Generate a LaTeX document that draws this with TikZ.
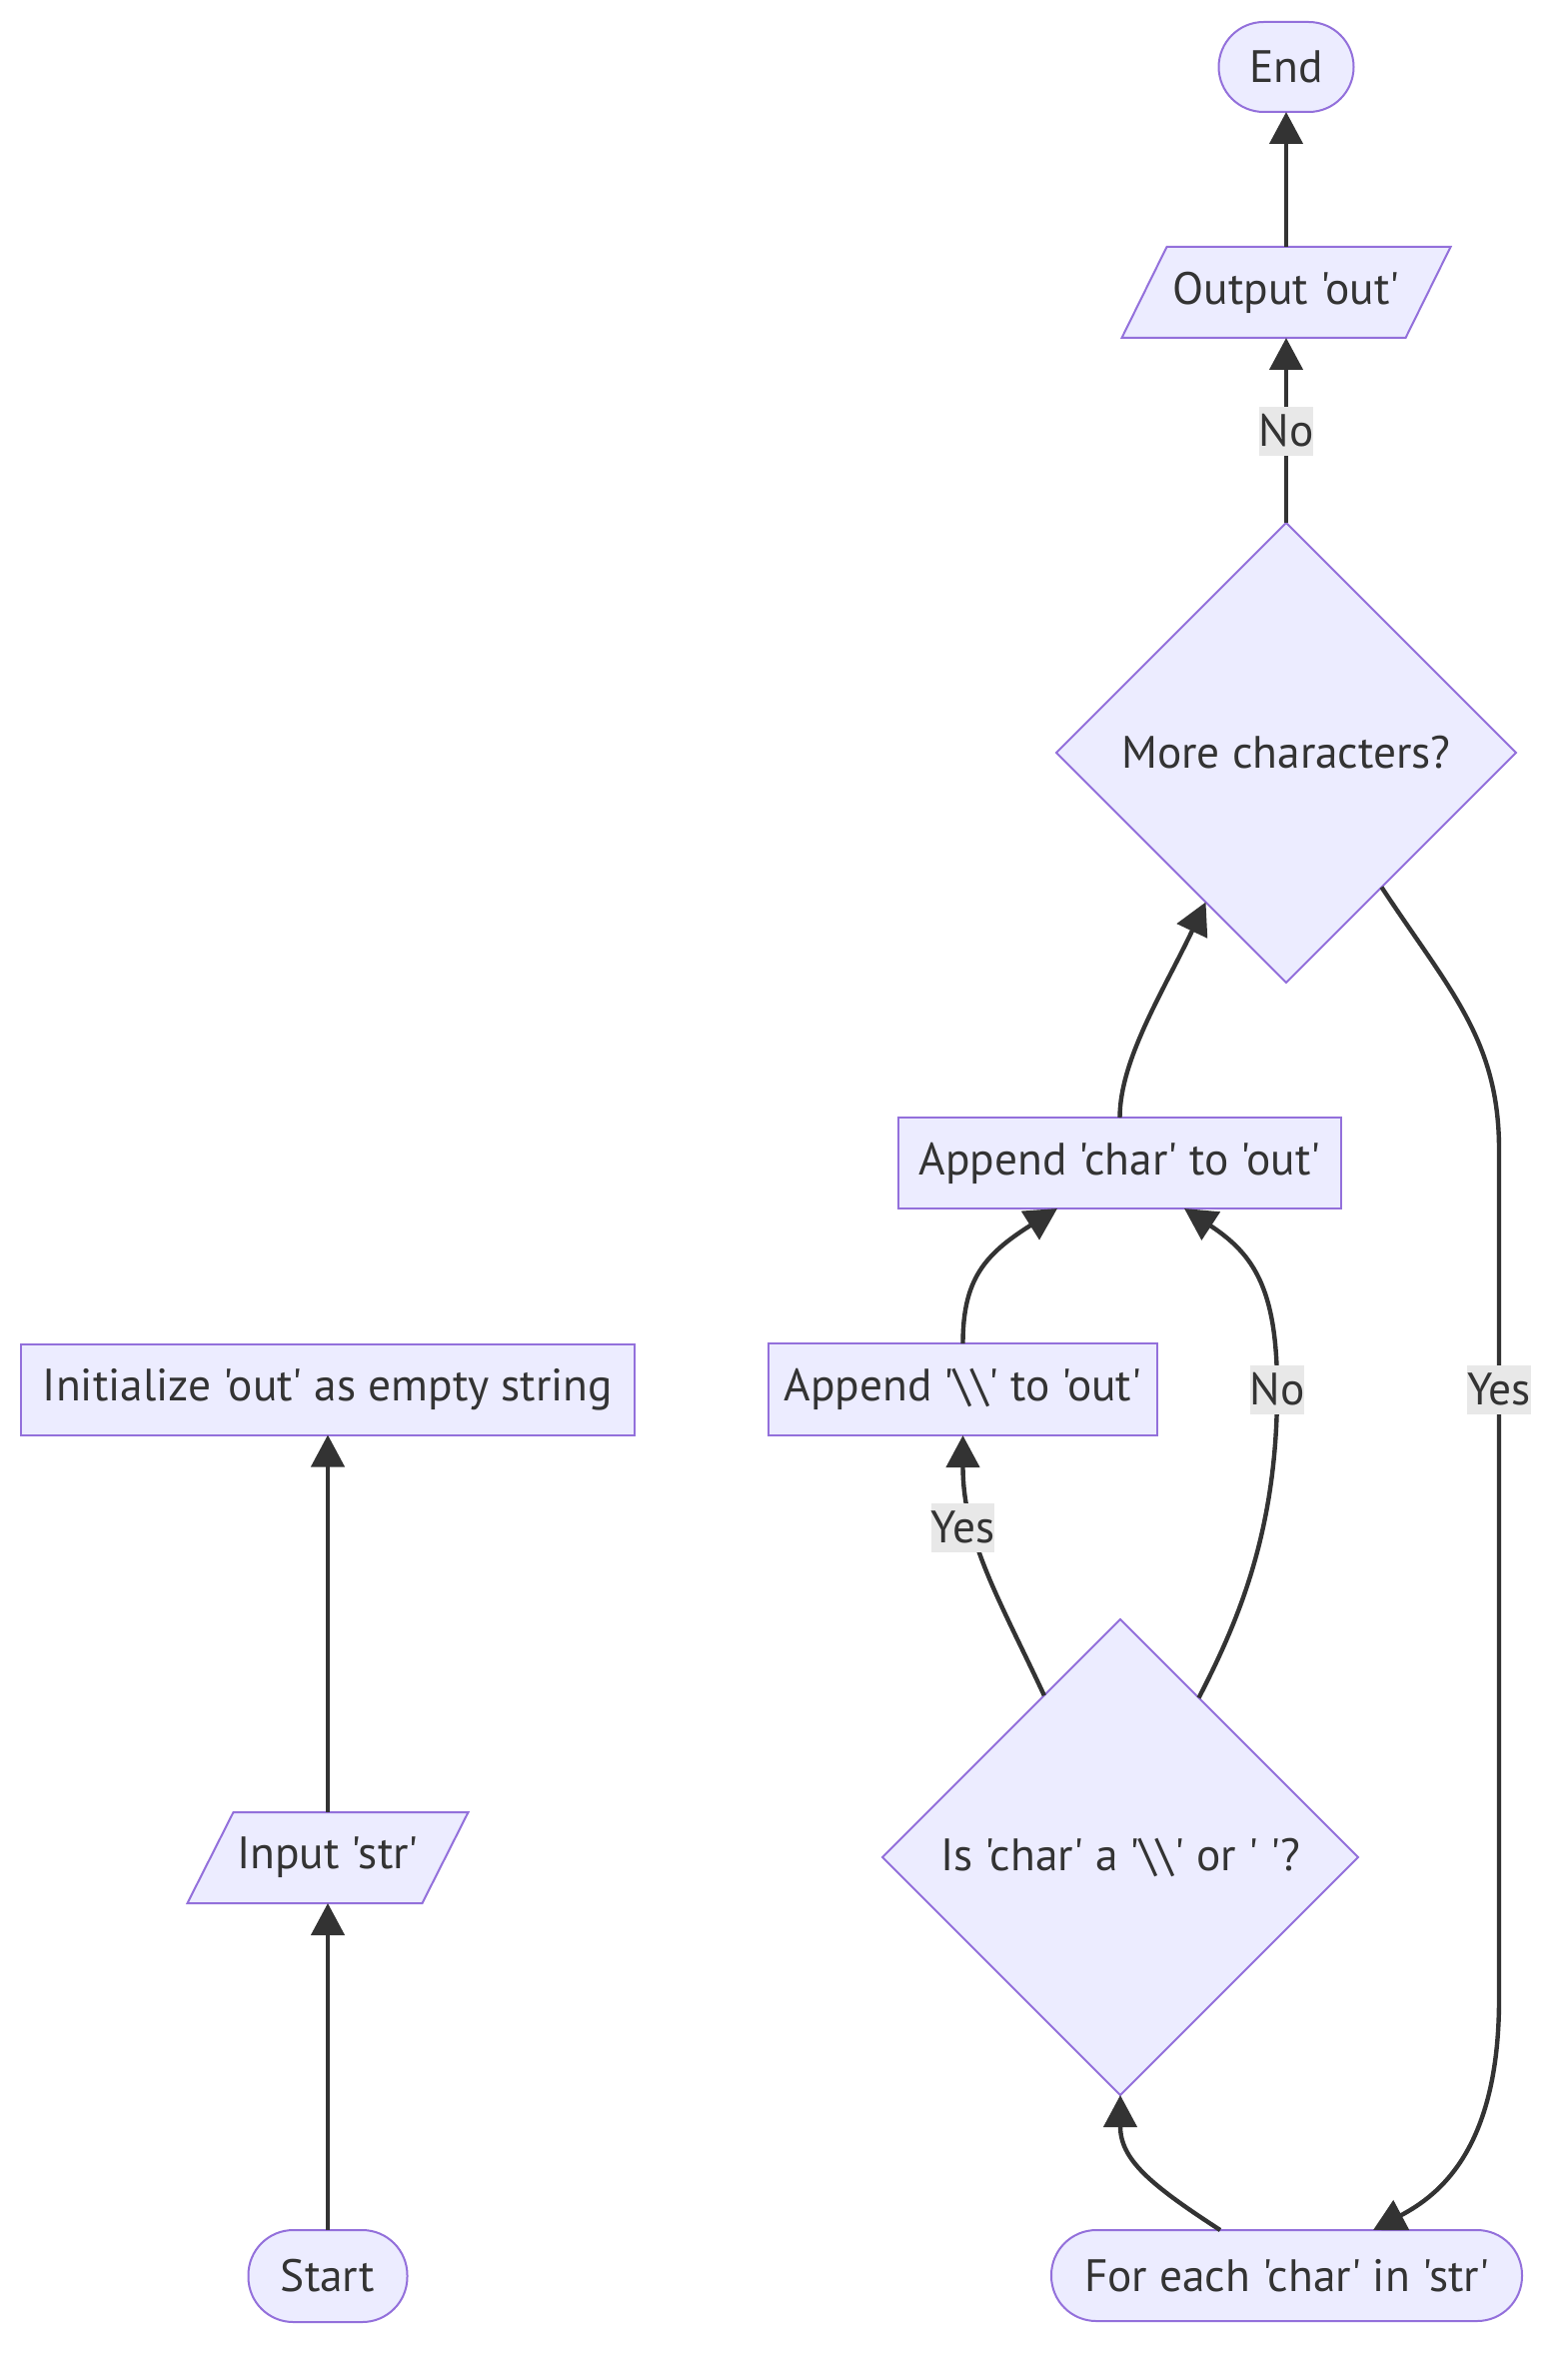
\documentclass[tikz,border=0pt]{standalone}
\usepackage{fontspec}
\setmainfont{PT Sans}[Ligatures=TeXOff]
\usetikzlibrary{arrows.meta,shapes.geometric,calc,backgrounds}
\definecolor{nfill}{HTML}{ECECFF}
\definecolor{nstroke}{HTML}{9370DB}
\definecolor{ink}{HTML}{333333}
\definecolor{lblbg}{HTML}{E8E8E8}
\begin{document}
\begin{tikzpicture}[x=0.5pt,y=-0.5pt,
  base/.style={font=\fontsize{22.7}{27}\selectfont, text=ink, inner sep=0pt, outer sep=0pt},
  boxnode/.style={base, rectangle, draw=nstroke, fill=nfill, line width=1pt},
  termnode/.style={boxnode, rounded corners=22.5pt},
  decnode/.style={base, diamond, aspect=1, draw=nstroke, fill=nfill, line width=1pt},
  ionode/.style={base, rectangle},
  iobox/.style={draw=nstroke, fill=nfill, line width=1pt},
  elabel/.style={base, rectangle, fill=lblbg, minimum height=24.5pt},
  flow/.style={draw=ink, line width=2.2pt, -{Triangle[length=16pt,width=16.5pt]}},
]
\useasboundingbox (0,0) rectangle (1568,2370);
\begin{scope}[on background layer]
\fill[white] (0,0) rectangle (1568,2370);
\end{scope}

% nodes
\node[termnode, minimum width=67.5pt, minimum height=45pt] (endn) at (1287,67) {End};
\node[ionode, minimum width=142pt, minimum height=45.5pt] (outp) at (1287,292.5) {Output 'out'};
\node[decnode, minimum width=230pt, minimum height=230pt] (more) at (1287,753) {More characters?};
\node[boxnode, minimum width=221.5pt, minimum height=45.5pt] (appc) at (1120.5,1163.5) {Append 'char' to 'out'};
\node[boxnode, minimum width=194.5pt, minimum height=46pt] (appb) at (963.5,1390) {Append '\textbackslash\textbackslash' to 'out'};
\node[boxnode, minimum width=307pt, minimum height=45.5pt] (init) at (328,1390) {Initialize 'out' as empty string};
\node[ionode, minimum width=117.5pt, minimum height=45.5pt] (inp) at (328,1858.5) {Input 'str'};
\node[termnode, minimum width=79.5pt, minimum height=46pt] (start) at (328,2277) {Start};
\node[decnode, minimum width=238pt, minimum height=238pt] (isch) at (1121,1858) {Is 'char' a '\textbackslash\textbackslash' or ' '?};
\node[termnode, minimum width=235.5pt, minimum height=45.5pt] (fore) at (1287.5,2276.5) {For each 'char' in 'str'};

\begin{scope}[on background layer]
\draw[iobox] ([xshift=-11.25pt]outp.south west) -- ([xshift=-11.25pt]outp.south east)
  -- ([xshift=11.25pt]outp.north east) -- ([xshift=11.25pt]outp.north west) -- cycle;
\draw[iobox] ([xshift=-11.5pt]inp.south west) -- ([xshift=-11.5pt]inp.south east)
  -- ([xshift=11.5pt]inp.north east) -- ([xshift=11.5pt]inp.north west) -- cycle;
\end{scope}

% connectors
\draw[flow] (start.north) -- (inp.south);
\draw[flow] (inp.north) -- (init.south);
\draw[flow] (outp.north) -- (endn.south);
\draw[flow] (more.north) -- (outp.south);
\draw[flow] ([xshift=-33.25pt]fore.north) .. controls (1150,2185) and (1121,2160) .. (isch.south);
\draw[flow] ($(isch.north)!0.32!(isch.west)$) .. controls (1000,1600) and (963.5,1540) .. (appb.south);
\draw[flow] ($(isch.north)!0.33!(isch.east)$) .. controls (1240,1620) and (1278,1530) .. (1278,1390)
  .. controls (1278,1290) and (1255,1255) .. ([xshift=32.25pt]appc.south);
\draw[flow] (appb.north) .. controls (963.5,1280) and (985,1255) .. ([xshift=-31.25pt]appc.south);
\draw[flow] (appc.north) .. controls (1120.5,1060) and (1165,990) .. ($(more.south)!0.35!(more.west)$);
\draw[flow] ($(more.south)!0.415!(more.east)$) .. controls (1450,990) and (1500,1040) .. (1500,1150)
  -- (1500,2000) .. controls (1500,2150) and (1440,2196) .. ([xshift=43.25pt]fore.north);

% edge labels
\node[elabel, minimum width=25pt] (lno1) at (1287,431) {No};
\node[elabel, minimum width=30.5pt] (lyes1) at (963.5,1528) {Yes};
\node[elabel, minimum width=25pt] (lno2) at (1278,1390) {No};
\node[elabel, minimum width=30.5pt] (lyes2) at (1500,1390) {Yes};
\end{tikzpicture}
\end{document}
